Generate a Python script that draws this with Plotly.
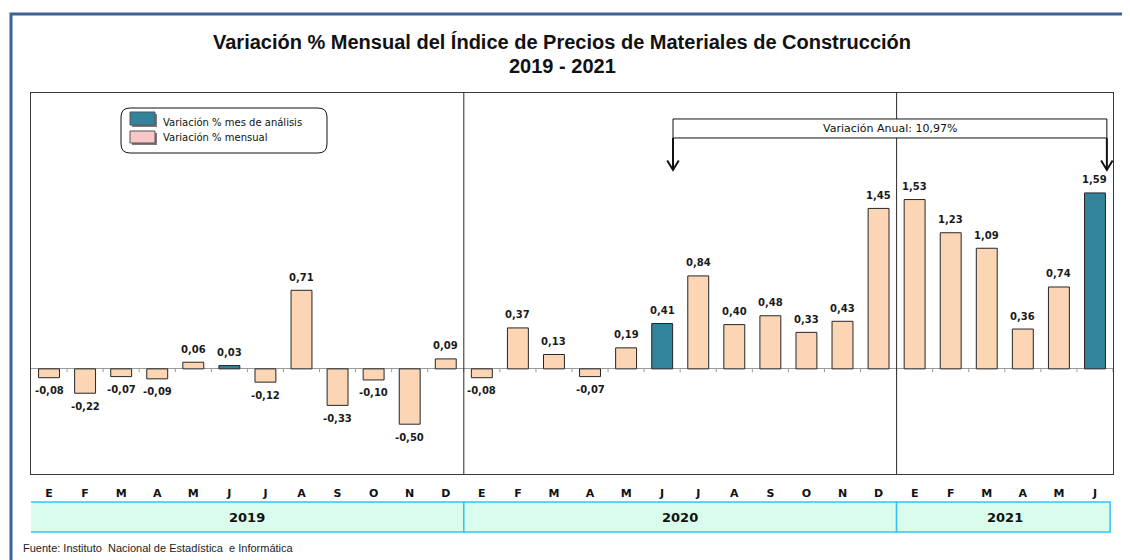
import plotly.graph_objects as go

# ---------------- data ----------------
months = ["E", "F", "M", "A", "M", "J", "J", "A", "S", "O", "N", "D",
          "E", "F", "M", "A", "M", "J", "J", "A", "S", "O", "N", "D",
          "E", "F", "M", "A", "M", "J"]
values_2019 = [-0.08, -0.22, -0.07, -0.09, 0.06, 0.03, -0.12, 0.71, -0.33, -0.10, -0.50, 0.09]
values_2020 = [-0.08, 0.37, 0.13, -0.07, 0.19, 0.41, 0.84, 0.40, 0.48, 0.33, 0.43, 1.45]
values_2021 = [1.53, 1.23, 1.09, 0.36, 0.74, 1.59]
years = ["2019", "2020", "2021"]
year_counts = [12, 12, 6]
highlight_idx = [5, 17, 29]          # "mes de análisis" (June of each year)
annual_text = "Variación Anual: 10,97%"
title_line1 = "Variación % Mensual del Índice de Precios de Materiales de Construcción"
title_line2 = "2019 - 2021"
legend_labels = ["Variación % mes de análisis", "Variación % mensual"]
source_text = "Fuente: Instituto  Nacional de Estadística  e Informática"

values = values_2019 + values_2020 + values_2021
x = list(range(len(values)))

PEACH = "#FCD5B5"
TEAL = "#31849B"
PINK = "#F8C8C8"
colors = [TEAL if i in highlight_idx else PEACH for i in x]

# ---------------- geometry helpers (page pixels -> paper) ----------------
OFF = 8                      # default body margin of the page
PAGE_W, PAGE_H = 1130, 560
W, H = PAGE_W - OFF, PAGE_H - OFF
L, R, T, B = 31, 17, 93, 86  # plot area in page pixels (left, right, top, bottom margins)
PW = PAGE_W - L - R
PH = PAGE_H - T - B
def px(xp):
    return (xp - L) / PW
def py(yp):
    return (PAGE_H - B - yp) / PH

fig = go.Figure()
fig.add_trace(go.Bar(
    x=x, y=values, marker=dict(color=colors, line=dict(color="#262626", width=1)),
    width=0.58, showlegend=False, hoverinfo="x+y"))

LABEL_FONT = "DejaVu Sans, Verdana, sans-serif"
annotations = []
# data labels
for xi, v in zip(x, values):
    annotations.append(dict(
        x=xi, y=v, xref="x", yref="y", text=f"{v:.2f}".replace(".", ","),
        showarrow=False, yshift=13 if v >= 0 else -13, yanchor="middle",
        font=dict(family=LABEL_FONT, size=10, color="#1a1a1a", weight="bold")))

shapes = []
# outer frame
shapes.append(dict(type="rect", xref="paper", yref="paper",
                   x0=px(11), x1=px(1140), y0=py(14), y1=py(570),
                   line=dict(color="#3D6294", width=3), layer="below"))
# tick marks on zero line
for i in range(len(values)):
    shapes.append(dict(type="line", xref="x", yref="y", x0=i + 0.5, x1=i + 0.5,
                       y0=0, y1=-0.03, line=dict(color="#9A9A9A", width=1)))
# year separators + year band
start = 0
for yr, n in zip(years, year_counts):
    x0, x1 = start - 0.5, start + n - 0.5
    if start > 0:
        shapes.append(dict(type="line", xref="x", yref="paper", x0=x0, x1=x0,
                           y0=0, y1=1, line=dict(color="#2a2a2a", width=1)))
    shapes.append(dict(type="rect", xref="x", yref="paper",
                       x0=x0 - (0.05 if start == 0 else 0),
                       x1=x1 - (0.08 if start + n == len(values) else 0),
                       y0=py(532), y1=py(502),
                       fillcolor="#DAFCEC", line=dict(color="#33C3F3", width=1.5)))
    annotations.append(dict(x=(x0 + x1) / 2, y=py(517), xref="x", yref="paper",
                            text=yr, showarrow=False, yanchor="middle",
                            font=dict(family=LABEL_FONT, size=13, color="#111", weight="bold")))
    start += n

# annual variation bracket
xa, xb = highlight_idx[1] + 0.3, highlight_idx[2] + 0.33
ytop, ybot, ytip = (369 - 119) / 110.7, (369 - 138) / 110.7, (369 - 170) / 110.7
shapes.append(dict(type="rect", xref="x", yref="y", x0=xa, x1=xb, y0=ybot, y1=ytop,
                   fillcolor="white", line=dict(color="#111", width=1)))
for xv in (xa, xb):
    shapes.append(dict(type="line", xref="x", yref="y", x0=xv, x1=xv, y0=ybot, y1=ytip,
                       line=dict(color="#111", width=2)))
    dx, dy = 0.16, 0.085
    shapes.append(dict(type="path", xref="x", yref="y",
                       path=f"M {xv-dx},{ytip+dy} L {xv},{ytip} L {xv+dx},{ytip+dy}",
                       line=dict(color="#111", width=2)))
annotations.append(dict(x=(xa + xb) / 2, y=(ytop + ybot) / 2, xref="x", yref="y",
                        text=annual_text, showarrow=False, yanchor="middle",
                        font=dict(family=LABEL_FONT, size=11, color="#111")))

# legend (manual, rounded box)
lx0, lx1, ly0, ly1 = px(121), px(327), py(153), py(108)
rx, ry = 9 / PW, 9 / PH
path = (f"M {lx0+rx},{ly1} L {lx1-rx},{ly1} Q {lx1},{ly1} {lx1},{ly1-ry} "
        f"L {lx1},{ly0+ry} Q {lx1},{ly0} {lx1-rx},{ly0} L {lx0+rx},{ly0} "
        f"Q {lx0},{ly0} {lx0},{ly0+ry} L {lx0},{ly1-ry} Q {lx0},{ly1} {lx0+rx},{ly1} Z")
shapes.append(dict(type="path", xref="paper", yref="paper", path=path,
                   fillcolor="white", line=dict(color="#111", width=1)))
for (c, yt, yb, ytext), lab in zip([(TEAL, 112, 125, 122), (PINK, 131, 143, 137)], legend_labels):
    shapes.append(dict(type="rect", xref="paper", yref="paper",
                       x0=px(132), x1=px(157), y0=py(yb + 2), y1=py(yt + 2),
                       fillcolor="#7a7a7a", line=dict(width=0)))
    shapes.append(dict(type="rect", xref="paper", yref="paper",
                       x0=px(130), x1=px(155), y0=py(yb), y1=py(yt),
                       fillcolor=c, line=dict(color="#555", width=1)))
    annotations.append(dict(x=px(161), y=py(ytext), xref="paper", yref="paper",
                            xanchor="left", yanchor="middle", text=lab, showarrow=False,
                            font=dict(family=LABEL_FONT, size=10, color="#111")))

# title
TITLE_FONT = "Liberation Sans, Arial, sans-serif"
annotations.append(dict(x=px(562), y=py(42), xref="paper", yref="paper", text=title_line1,
                        showarrow=False, yanchor="middle",
                        font=dict(family=TITLE_FONT, size=20, color="#111", weight="bold")))
annotations.append(dict(x=px(562), y=py(66), xref="paper", yref="paper", text=title_line2,
                        showarrow=False, yanchor="middle",
                        font=dict(family=TITLE_FONT, size=20, color="#111", weight="bold")))
# source
annotations.append(dict(x=px(21), y=py(548), xref="paper", yref="paper", xanchor="left",
                        yanchor="middle", text=source_text, showarrow=False,
                        font=dict(family="Liberation Sans, Arial, sans-serif", size=11, color="#222")))

fig.update_layout(
    width=W, height=H, margin=dict(l=L - OFF, r=R, t=T - OFF, b=B),
    paper_bgcolor="white", plot_bgcolor="white",
    shapes=shapes, annotations=annotations, showlegend=False, bargap=0.4,
    xaxis=dict(range=[-0.5, len(values) - 0.5], tickmode="array", tickvals=x, ticktext=months,
               showgrid=False, zeroline=False, showline=True, mirror=True,
               linecolor="#3a3a3a", linewidth=1, ticks="", ticklabelstandoff=9,
               tickfont=dict(family=LABEL_FONT, size=11, color="#111", weight="bold"),
               fixedrange=True),
    yaxis=dict(range=[-0.95, 2.493], showgrid=False, zeroline=True, zerolinecolor="#9A9A9A",
               zerolinewidth=1, showline=True, mirror=True, linecolor="#3a3a3a", linewidth=1,
               showticklabels=False, ticks="", fixedrange=True),
)
fig.write_html("out.html")
